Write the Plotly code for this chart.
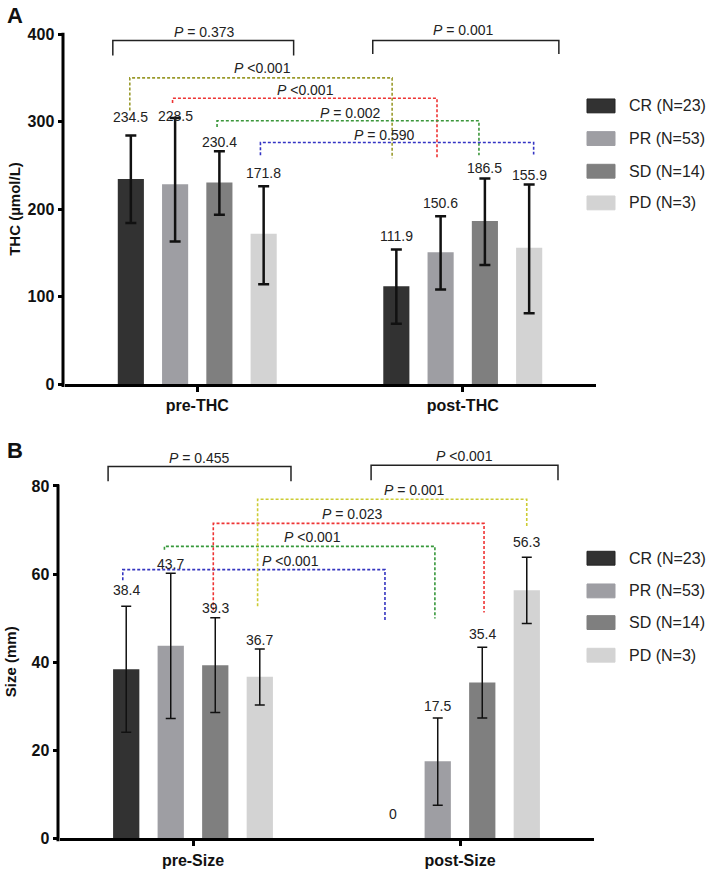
import plotly.graph_objects as go

# ---------------- data ----------------
groups = ["CR (N=23)", "PR (N=53)", "SD (N=14)", "PD (N=3)"]
bar_colors = ["#323232", "#9e9ea3", "#7f7f7f", "#d3d3d3"]

thc_categories = ["pre-THC", "post-THC"]
thc_means = [[234.5, 111.9], [228.5, 150.6], [230.4, 186.5], [171.8, 155.9]]
thc_upper = [[284.0, 153.7], [304.0, 191.7], [266.0, 235.0], [226.0, 228.0]]
thc_lower = [[184.0, 69.0], [163.0, 108.0], [193.6, 136.0], [114.0, 81.0]]
thc_between_p = ["= 0.373", "= 0.001"]
thc_within_p = ["<0.001", "<0.001", "= 0.002", "= 0.590"]  # CR, PR, SD, PD

size_categories = ["pre-Size", "post-Size"]
size_means = [[38.4, 0], [43.7, 17.5], [39.3, 35.4], [36.7, 56.3]]
size_upper = [[52.7, 0], [60.2, 27.3], [50.1, 43.4], [43.0, 63.8]]
size_lower = [[24.1, 0], [27.2, 7.5], [28.6, 27.3], [30.3, 48.8]]
size_between_p = ["= 0.455", "<0.001"]
size_within_p = ["<0.001", "<0.001", "= 0.023", "= 0.001"]  # CR, PR, SD, PD

# ---------------- layout positions ----------------
W, H = 711, 881
FONT = "Liberation Sans, Arial, sans-serif"
offsets = [-0.25, -1 / 12, 1 / 12, 0.25]

# value-label heights (data units)
thc_label_y = [[305.5, 169.4], [306.6, 207.0], [277.0, 246.7], [241.0, 239.0]]
size_label_y = [[56.3, 5.5], [62.3, 30.1], [52.3, 46.4], [45.1, 67.2]]

# between-time brackets: (x0, x1, ytop, yend0, yend1, label_x, label_y)
thc_brackets = [(-0.318, 0.363, 392.6, 375.7, 375.7, 0.028, 403.0),
                (0.661, 1.362, 392.6, 377.3, 377.3, 1.004, 405.0)]
size_brackets = [(-0.318, 0.367, 84.4, 81.1, 81.1, 0.026, 86.4),
                 (0.667, 1.367, 84.7, 81.3, 81.3, 1.015, 86.8)]

# within-group dashed connectors: (xleft, xright, y, yleft_end, yright_end, label_x, label_y)
thc_links = [(-0.254, 0.734, 350.0, 312.6, 258.0, 0.247, 361.8),
             (-0.093, 0.903, 326.7, 321.4, 258.0, 0.409, 336.0),
             (0.0746, 1.061, 301.0, 293.9, 261.7, 0.578, 310.0),
             (0.238, 1.267, 276.1, 261.7, 262.5, 0.706, 285.0)]
thc_link_colors = ["#9a9a2c", "#ee3434", "#3a963a", "#3434c4"]

size_links = [(-0.263, 0.719, 61.0, 58.6, 49.2, 0.367, 63.0),
              (-0.107, 0.906, 66.3, 65.5, 49.9, 0.446, 68.4),
              (0.076, 1.09, 71.5, 51.8, 51.3, 0.599, 73.6),
              (0.242, 1.25, 77.0, 52.7, 70.9, 0.831, 79.0)]
size_link_colors = ["#3434c0", "#36983a", "#ee3434", "#cccc34"]

# panel geometry in pixels
top_px = dict(x0=64.5, x1=595.5, y0=388.0, yscale=(388.0 - 34.5) / 400.0, ymax=430)
bot_px = dict(x0=59.5, x1=593.5, y0=847.0, yscale=(847.0 - 491.0) / 80.0, ymax=92)


def ydomain(p):
    top = p["y0"] - p["ymax"] * p["yscale"]
    return [(H - p["y0"]) / H, (H - top) / H]


fig = go.Figure()

panels = [
    dict(xa="x", ya="y", cats=thc_categories, means=thc_means, up=thc_upper, lo=thc_lower,
         lab_y=thc_label_y, thick=2.5, capw=5.5),
    dict(xa="x2", ya="y2", cats=size_categories, means=size_means, up=size_upper, lo=size_lower,
         lab_y=size_label_y, thick=1.5, capw=5),
]

annotations = []
shapes = []

for p in panels:
    for g in range(4):
        m = p["means"][g]
        # no error bar where there is no spread (e.g. CR post-Size = 0)
        eplus = [(u - v) if u != l else "NaN" for u, l, v in zip(p["up"][g], p["lo"][g], m)]
        eminus = [(v - l) if u != l else "NaN" for u, l, v in zip(p["up"][g], p["lo"][g], m)]
        fig.add_trace(go.Bar(
            x=[0, 1], y=m, name=groups[g], marker=dict(color=bar_colors[g], line=dict(width=0)),
            error_y=dict(type="data", array=eplus, arrayminus=eminus, color="#111111",
                         thickness=p["thick"], width=p["capw"], visible=True),
            xaxis=p["xa"], yaxis=p["ya"], showlegend=False,
        ))
        for i in range(2):
            annotations.append(dict(
                x=i + offsets[g], y=p["lab_y"][g][i], xref=p["xa"], yref=p["ya"],
                text=f"{m[i]:g}", showarrow=False, font=dict(family=FONT, size=14, color="#222"),
                xanchor="center", yanchor="middle"))


def add_brackets(brs, ptxt, xa, ya):
    for (x0, x1, yt, ye0, ye1, lx, ly), t in zip(brs, ptxt):
        shapes.append(dict(type="path", xref=xa, yref=ya,
                           path=f"M {x0},{ye0} L {x0},{yt} L {x1},{yt} L {x1},{ye1}",
                           line=dict(color="#222", width=1.5)))
        annotations.append(dict(x=lx, y=ly, xref=xa, yref=ya, text=f"<i>P</i> {t}",
                                showarrow=False, font=dict(family=FONT, size=14, color="#222"),
                                xanchor="center", yanchor="middle"))


def add_links(links, ptxt, colors, xa, ya):
    for (x0, x1, yy, ye0, ye1, lx, ly), t, c in zip(links, ptxt, colors):
        shapes.append(dict(type="path", xref=xa, yref=ya,
                           path=f"M {x0},{ye0} L {x0},{yy} L {x1},{yy} L {x1},{ye1}",
                           line=dict(color=c, width=1.6, dash="3px,2px")))
        annotations.append(dict(x=lx, y=ly, xref=xa, yref=ya, text=f"<i>P</i> {t}",
                                showarrow=False, font=dict(family=FONT, size=14, color="#222"),
                                xanchor="center", yanchor="middle"))


add_brackets(thc_brackets, thc_between_p, "x", "y")
add_brackets(size_brackets, size_between_p, "x2", "y2")
add_links(thc_links, thc_within_p, thc_link_colors, "x", "y")
add_links(size_links, size_within_p, size_link_colors, "x2", "y2")

# custom y axis lines (stop at top tick)
for p, top_val in ((top_px, 400), (bot_px, 80)):
    xp = (p["x0"] - 1.5) / W
    ytop = p["y0"] - top_val * p["yscale"] - 1.5
    shapes.append(dict(type="line", xref="paper", yref="paper", x0=xp, x1=xp,
                       y0=(H - p["y0"] - 3) / H, y1=(H - ytop) / H,
                       line=dict(color="black", width=3)))

# manual legends
legend_rows = [[107, 140, 173, 205], [564, 597, 629, 662]]
for rows in legend_rows:
    for g, py in enumerate(rows):
        shapes.append(dict(type="rect", xref="paper", yref="paper",
                           x0=587 / W, x1=615 / W, y0=(H - py - 7) / H, y1=(H - py + 7) / H,
                           fillcolor=bar_colors[g],
                           line=dict(color="#222" if g == 0 else bar_colors[g], width=1)))
        annotations.append(dict(x=627 / W, y=(H - py) / H, xref="paper", yref="paper",
                                text=groups[g], showarrow=False, xanchor="left", yanchor="middle",
                                font=dict(family=FONT, size=16, color="#222")))

# axis titles and panel letters
annotations += [
    dict(x=14.5 / W, y=(H - 211.5) / H, xref="paper", yref="paper", text="<b>THC (µmol/L)</b>",
         textangle=-90, showarrow=False, font=dict(family=FONT, size=15, color="#111"),
         xanchor="center", yanchor="middle"),
    dict(x=10 / W, y=(H - 669) / H, xref="paper", yref="paper", text="<b>Size (mm)</b>",
         textangle=-90, showarrow=False, font=dict(family=FONT, size=15, color="#111"),
         xanchor="center", yanchor="middle"),
    dict(x=15 / W, y=(H - 16) / H, xref="paper", yref="paper", text="<b>A</b>",
         showarrow=False, font=dict(family=FONT, size=22, color="#111"),
         xanchor="center", yanchor="middle"),
    dict(x=15 / W, y=(H - 455) / H, xref="paper", yref="paper", text="<b>B</b>",
         showarrow=False, font=dict(family=FONT, size=22, color="#111"),
         xanchor="center", yanchor="middle"),
]

tickfont = dict(family=FONT, size=16, color="#111", weight="bold")
xcommon = dict(range=[-0.5, 1.5], tickvals=[0, 1], showline=True, linewidth=3, linecolor="black",
               ticks="outside", ticklen=5, tickwidth=3, tickcolor="black", showgrid=False,
               zeroline=False, tickfont=tickfont, fixedrange=True)
ycommon = dict(showline=False, ticks="outside", ticklen=6, tickwidth=3, tickcolor="black",
               showgrid=False, zeroline=False, tickfont=tickfont, fixedrange=True)

fig.update_layout(
    width=W, height=H, autosize=False,
    margin=dict(l=0, r=0, t=0, b=0),
    paper_bgcolor="white", plot_bgcolor="white",
    barmode="group", bargap=0.333, bargroupgap=0.41,
    showlegend=False,
    xaxis=dict(xcommon, domain=[top_px["x0"] / W, top_px["x1"] / W], anchor="y",
               ticktext=thc_categories),
    yaxis=dict(ycommon, domain=ydomain(top_px), anchor="x", range=[0, top_px["ymax"]],
               tickvals=[0, 100, 200, 300, 400]),
    xaxis2=dict(xcommon, domain=[bot_px["x0"] / W, bot_px["x1"] / W], anchor="y2",
                ticktext=size_categories),
    yaxis2=dict(ycommon, domain=ydomain(bot_px), anchor="x2", range=[0, bot_px["ymax"]],
                tickvals=[0, 20, 40, 60, 80]),
    shapes=shapes, annotations=annotations,
)

fig.write_html(
    "out.html",
    config={"displayModeBar": False},
    post_script="document.body.style.margin='0';document.body.style.overflow='hidden';",
)
